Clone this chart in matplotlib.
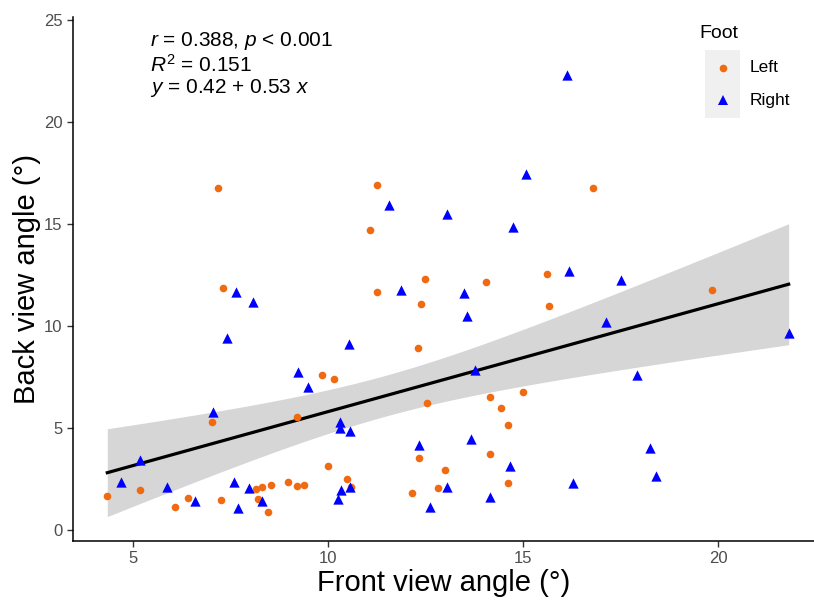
import numpy as np
import matplotlib
matplotlib.use("Agg")
import matplotlib.pyplot as plt
from matplotlib.lines import Line2D
from matplotlib.patches import Rectangle

plt.rcParams['font.family'] = ['Liberation Sans', 'DejaVu Sans']
plt.rcParams['mathtext.fontset'] = 'custom'
plt.rcParams['mathtext.rm'] = 'Liberation Sans'
plt.rcParams['mathtext.it'] = 'Liberation Sans:italic'

# Left foot (front view angle, back view angle)
left_front = [9.85, 7.02, 9.20, 4.33, 5.17, 6.07, 6.39, 7.24, 8.14, 8.30, 8.52,
              8.19, 8.46, 8.97, 9.20, 9.37, 12.38, 15.67, 12.31, 10.14, 14.16,
              14.99, 12.54, 14.44, 14.60, 12.32, 14.16, 9.98, 10.48, 10.58,
              12.99, 12.15, 12.82, 14.60, 15.61, 19.85, 7.18, 11.06, 7.30,
              16.79, 11.26, 12.49, 11.26, 14.04]
left_back = [7.60, 5.29, 5.55, 1.68, 1.95, 1.11, 1.55, 1.46, 2.02, 2.11, 2.19,
             1.49, 0.85, 2.34, 2.17, 2.21, 11.09, 10.99, 8.91, 7.39, 6.53,
             6.75, 6.21, 5.98, 5.16, 3.51, 3.71, 3.12, 2.51, 2.11,
             2.94, 1.80, 2.04, 2.29, 12.55, 11.76, 16.78, 14.71, 11.88,
             16.75, 16.90, 12.30, 11.65, 12.16]

# Right foot
right_front = [8.08, 7.41, 9.21, 9.47, 7.03, 5.18, 4.67, 5.85, 6.57, 7.57, 7.69,
               7.97, 8.30, 13.56, 10.54, 13.77, 10.31, 10.31, 10.55, 12.32,
               13.66, 14.67, 10.55, 10.32, 10.26, 13.05, 12.61, 14.16, 16.17,
               17.51, 17.13, 21.81, 17.91, 18.25, 18.41, 16.29, 7.63, 15.06,
               11.55, 13.05, 14.73, 11.87, 13.49, 16.13]
right_back = [11.19, 9.40, 7.76, 7.02, 5.77, 3.43, 2.34, 2.12, 1.41, 2.34, 1.09,
              2.04, 1.39, 10.49, 9.10, 7.84, 5.28, 4.97, 4.84, 4.15,
              4.43, 3.12, 2.12, 1.93, 1.52, 2.11, 1.14, 1.62, 12.71,
              12.25, 10.20, 9.67, 7.60, 4.02, 2.65, 2.30, 11.68, 17.45,
              15.92, 15.50, 14.83, 11.76, 11.63, 22.32]

stats_text = ["$r$ = 0.388, $p$ < 0.001", "$R^2$ = 0.151", "$y$ = 0.42 + 0.53 $x$"]

orange = "#F06A12"
blue = "#0000FF"

fig = plt.figure(figsize=(8.14, 6.01), dpi=100)
ax = fig.add_axes([73 / 814, 60 / 601, 741 / 814, 524 / 601])

# linear fit with 95% confidence band
x = np.array(left_front + right_front)
y = np.array(left_back + right_back)
n = len(x)
slope, intercept = np.polyfit(x, y, 1)
xs = np.linspace(x.min(), x.max(), 200)
ys = intercept + slope * xs
resid = y - (intercept + slope * x)
s = np.sqrt(np.sum(resid ** 2) / (n - 2))
se = s * np.sqrt(1 / n + (xs - x.mean()) ** 2 / np.sum((x - x.mean()) ** 2))
t = 1.986
ax.fill_between(xs, ys - t * se, ys + t * se, color="#D6D6D6", lw=0, zorder=1)
ax.plot(xs, ys, color="black", lw=2.3, zorder=2)

ax.scatter(left_front, left_back, s=30, marker="o", color=orange, lw=0, zorder=3)
ax.scatter(right_front, right_back, s=55, marker="^", color=blue, lw=0, zorder=3)

ax.set_xlim(3.45, 22.46)
ax.set_ylim(-0.55, 25.15)
ax.set_xticks([5, 10, 15, 20])
ax.set_yticks([0, 5, 10, 15, 20, 25])
ax.spines['top'].set_visible(False)
ax.spines['right'].set_visible(False)
for sp in ['left', 'bottom']:
    ax.spines[sp].set_linewidth(1.1)
    ax.spines[sp].set_color("black")
ax.tick_params(length=4, width=1, color="#333333", labelcolor="#4D4D4D",
               labelsize=12)
ax.set_xlabel("Front view angle (°)", fontsize=21, labelpad=2)
ax.set_ylabel("Back view angle (°)", fontsize=21, labelpad=2)

for i, line in enumerate(stats_text):
    ax.text(150 / 814, 1 - (41 + 23.5 * i) / 601, line, transform=fig.transFigure,
            fontsize=15, va="center", ha="left")

# legend
fig.text(699 / 814, 1 - 33 / 601, "Foot", fontsize=14, va="center", ha="left")
fig.patches.append(Rectangle((705 / 814, 1 - 118 / 601), 35 / 814, 68 / 601,
                             transform=fig.transFigure, color="#F0F0F0", lw=0))
fig.lines.append(Line2D([723 / 814], [1 - 68 / 601], transform=fig.transFigure,
                        marker="o", ms=5.5, color=orange, mew=0, ls=""))
fig.lines.append(Line2D([723 / 814], [1 - 100 / 601], transform=fig.transFigure,
                        marker="^", ms=7, color=blue, mew=0, ls=""))
fig.text(750 / 814, 1 - 68 / 601, "Left", fontsize=12.5, va="center", ha="left")
fig.text(750 / 814, 1 - 101 / 601, "Right", fontsize=12.5, va="center", ha="left")

fig.savefig("out.png", dpi=100)
